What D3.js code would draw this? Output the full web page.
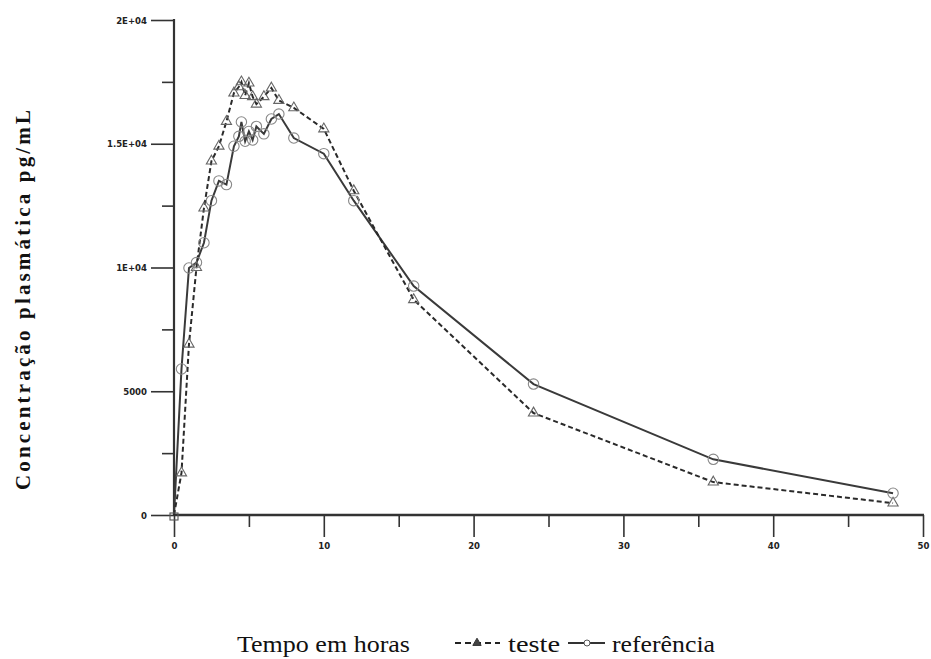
<!DOCTYPE html>
<html><head><meta charset="utf-8">
<script src="https://cdn.jsdelivr.net/npm/d3@7"></script>
<style>body{margin:0;background:#fff}svg{display:block}</style>
</head><body>
<svg id="c" width="931" height="659"></svg>
<script>
const times = [0,0.5,1,1.5,2,2.5,3,3.5,4,4.33,4.5,4.75,5,5.25,5.5,6,6.5,7,8,10,12,16,24,36,48];
const teste = [0,1700,6900,10000,12400,14300,14900,15900,17050,17300,17500,16950,17450,16900,16600,16900,17250,16750,16450,15600,13100,8700,4120,1330,480];
const referencia = [0,5900,9980,10200,11000,12700,13500,13350,14900,15300,15880,15100,15500,15150,15700,15400,16000,16200,15230,14600,12700,9250,5290,2250,880];
const yTicks = [0,5000,10000,15000,20000];
const yTickLabels = ["0","5000","1E+04","1.5E+04","2E+04"];
const yMinor = [2500,7500,12500,17500];
const xTicks = [0,10,20,30,40,50];
const xMinor = [5,15,25,35,45];
const yTitle = "Concentração plasmática pg/mL";
const xTitle = "Tempo em horas";
const seriesNames = ["teste","referência"];

const svg = d3.select("#c");
const x = d3.scaleLinear().domain([0,50]).range([174,923]);
const y = d3.scaleLinear().domain([0,20000]).range([515,20]);
const axisCol = "#333";
const tickFont = "'DejaVu Sans Condensed','DejaVu Sans',sans-serif";

// Y axis
const ya = svg.append("g").attr("transform","translate(174,0)")
  .call(d3.axisLeft(y).tickValues(yTicks).tickFormat((d,i)=>yTickLabels[i]).tickSize(23).tickPadding(4));
ya.select(".domain").remove();
ya.selectAll("line").attr("stroke",axisCol).attr("stroke-width",1.6);
ya.selectAll("text").attr("font-family",tickFont).attr("font-weight","bold").attr("font-size",9.5).attr("fill","#222");
const yam = svg.append("g").attr("transform","translate(174,0)")
  .call(d3.axisLeft(y).tickValues(yMinor).tickFormat("").tickSize(12));
yam.select(".domain").remove();
yam.selectAll("line").attr("stroke",axisCol).attr("stroke-width",1.6);
svg.append("line").attr("x1",174).attr("x2",174).attr("y1",y(20000)-1).attr("y2",y(0)).attr("stroke",axisCol).attr("stroke-width",2.2);

// X axis
const xa = svg.append("g").attr("transform","translate(0,515)")
  .call(d3.axisBottom(x).tickValues(xTicks).tickSize(22).tickPadding(5));
xa.select(".domain").remove();
xa.selectAll("line").attr("stroke",axisCol).attr("stroke-width",1.6);
xa.selectAll("text").attr("font-family",tickFont).attr("font-weight","bold").attr("font-size",9.5).attr("fill","#222");
const xam = svg.append("g").attr("transform","translate(0,515)")
  .call(d3.axisBottom(x).tickValues(xMinor).tickFormat("").tickSize(12));
xam.select(".domain").remove();
xam.selectAll("line").attr("stroke",axisCol).attr("stroke-width",1.6);
svg.append("line").attr("x1",x(0)).attr("x2",x(50)+1).attr("y1",515).attr("y2",515).attr("stroke",axisCol).attr("stroke-width",2.4);

// Lines
const line = d3.line().x(d=>x(d[0])).y(d=>y(d[1]));
const dT = times.map((t,i)=>[t,teste[i]]);
const dR = times.map((t,i)=>[t,referencia[i]]);
svg.append("path").attr("d",line(dR)).attr("fill","none").attr("stroke","#3a3a3a").attr("stroke-width",2);
svg.append("path").attr("d",line(dT)).attr("fill","none").attr("stroke","#2a2a2a").attr("stroke-width",2).attr("stroke-dasharray","5,3");

// markers
const tri = d3.symbol().type(d3.symbolTriangle).size(45);
svg.append("g").selectAll("path").data(dT.slice(1)).join("path")
  .attr("d",tri).attr("transform",d=>`translate(${x(d[0])},${y(d[1])})`)
  .attr("fill","none").attr("stroke","#666").attr("stroke-width",1.1);
svg.append("g").selectAll("circle").data(dR.slice(1)).join("circle")
  .attr("cx",d=>x(d[0])).attr("cy",d=>y(d[1])).attr("r",5.2)
  .attr("fill","none").attr("stroke","#888").attr("stroke-width",1.1);
svg.append("rect").attr("x",x(0)-4).attr("y",y(0)-2).attr("width",8).attr("height",7)
  .attr("fill","none").attr("stroke","#555").attr("stroke-width",1.1);

// Y title
svg.append("text").attr("transform","translate(30,300) rotate(-90)")
  .attr("text-anchor","middle").attr("font-family","'Liberation Serif','Times New Roman',serif")
  .attr("font-weight","bold").attr("font-size",21).attr("fill","#111")
  .attr("textLength",380).attr("lengthAdjust","spacing").text(yTitle);

// Legend
const serif = "'Liberation Serif','Times New Roman',serif";
const ly = 652;
svg.append("text").attr("x",237).attr("y",ly).attr("font-family",serif).attr("font-size",23)
  .attr("fill","#111").attr("textLength",173).attr("lengthAdjust","spacingAndGlyphs").text(xTitle);
svg.append("line").attr("x1",455).attr("x2",500).attr("y1",643).attr("y2",643)
  .attr("stroke","#222").attr("stroke-width",2.2).attr("stroke-dasharray","6,4");
svg.append("path").attr("d",d3.symbol().type(d3.symbolTriangle).size(30)).attr("transform","translate(477,643)")
  .attr("fill","#444").attr("stroke","#333");
svg.append("text").attr("x",508).attr("y",ly).attr("font-family",serif).attr("font-size",23)
  .attr("fill","#111").attr("textLength",52).attr("lengthAdjust","spacingAndGlyphs").text(seriesNames[0]);
svg.append("line").attr("x1",568).attr("x2",605).attr("y1",643).attr("y2",643)
  .attr("stroke","#333").attr("stroke-width",1.8);
svg.append("circle").attr("cx",587).attr("cy",643).attr("r",3).attr("fill","#fff").attr("stroke","#555");
svg.append("text").attr("x",612).attr("y",ly).attr("font-family",serif).attr("font-size",23)
  .attr("fill","#111").attr("textLength",103).attr("lengthAdjust","spacingAndGlyphs").text(seriesNames[1]);
</script>
</body></html>
